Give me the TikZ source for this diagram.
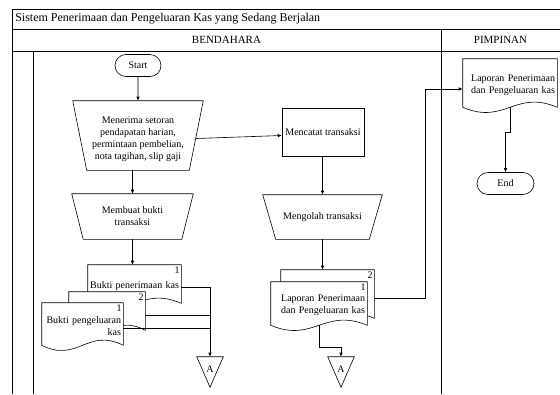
\documentclass[tikz,border=0pt]{standalone}
\usepackage{fontspec}
\setmainfont{Liberation Serif}
\usetikzlibrary{shapes.misc,arrows.meta,calc}

% dokumen: [nomor]{nama}{posisi}{lebar}{tinggi}{teks}
\newcommand{\dokumen}[6][]{%
  \node[dokbox, minimum width=#4, minimum height=#5] (#2) at #3 {};
  \draw[fill=white] (#2.south east) -- (#2.north east) -- (#2.north west) -- (#2.south west)
    .. controls +(0.45*#4,18) and +(-0.45*#4,-18) .. (#2.south east) -- cycle;
  \if\relax\detokenize{#1}\relax\else
    \node[nomor, anchor=north east] at (#2.north east) {#1};
  \fi
  \node[dokteks, text width=#4-4] at ($(#2)+(0,2)$) {#6};
}
% trapesium (operasi manual): {nama}{sisipan bawah}
\newcommand{\trapesium}[2]{%
  \draw (#1.north west) -- (#1.north east) -- ($(#1.south east)+(-#2,0)$) -- ($(#1.south west)+(#2,0)$) -- cycle;
}

\begin{document}
\begin{tikzpicture}[x=1pt, y=-1pt, line width=0.6pt, >={Latex[length=4pt,width=3.5pt]},
    font=\fontsize{10}{12}\selectfont,
    judul/.style = {font=\fontsize{11}{13}\selectfont, inner sep=0pt},
    terminal/.style = {draw, rounded rectangle, minimum height=22, inner sep=2pt},
    manual/.style = {align=center, inner sep=0pt},
    proses/.style = {draw, rectangle, minimum width=81, minimum height=48},
    dokbox/.style = {inner sep=0pt},
    nomor/.style = {inner sep=1.5pt},
    dokteks/.style = {align=right, inner sep=0pt},
    konektor/.style = {minimum width=26, text height=15, text depth=15, inner sep=0pt}]
    \useasboundingbox (0,0) rectangle (560,394);

    % kerangka
    \draw (12,394) |- (560,9);
    \draw (12,29) -- (560,29);
    \draw (12,51) -- (560,51);
    \draw (441,29) -- (441,394);
    \draw (33,51) -- (33,394);
    \node[judul, font=\fontsize{12}{14}\selectfont, anchor=west] (sistem) at (15,19) {Sistem Penerimaan dan Pengeluaran Kas yang Sedang Berjalan};
    \node[judul] (bendahara) at (226.5,40) {BENDAHARA};
    \node[judul] (pimpinan) at (500.5,40) {PIMPINAN};

    % bendahara
    \node[terminal, minimum width=50] (start) at (138,65.5) {Start};
    \node[manual, minimum width=130, minimum height=69] (terima) at (138,135.5)
        {\raisebox{-3.5pt}[\height][\depth]{\begin{tabular}{@{}c@{}}Menerima setoran\\pendapatan harian,\\permintaan pembelian,\\nota tagihan, slip gaji\end{tabular}}};
    \trapesium{terima}{14}
    \node[manual, minimum width=121, minimum height=45] (bukti) at (132.5,216.5)
        {Membuat bukti\\transaksi};
    \trapesium{bukti}{11.5}
    \node[proses] (catat) at (323,132) {Mencatat transaksi};
    \node[manual, minimum width=119, minimum height=44] (olah) at (322.5,217)
        {Mengolah transaksi};
    \trapesium{olah}{13}

    \dokumen[1]{pen}{(134.5,284)}{93}{38}{Bukti penerimaan kas}
    \dokumen[2]{kel2}{(107,311)}{76}{38}{}
    \dokumen[1]{kel1}{(82.5,324)}{81}{42}{Bukti pengeluaran\\kas}
    \dokumen[2]{lap2}{(327.5,294)}{93}{48}{}
    \dokumen[1]{lap1}{(319,303.5)}{96}{43}{Laporan Penerimaan\\dan Pengeluaran kas}

    \node[konektor] (a1) at (210,372) {A};
    \draw (a1.north west) -- (a1.north east) -- (a1.south) -- cycle;
    \node[konektor] (a2) at (341,372) {A};
    \draw (a2.north west) -- (a2.north east) -- (a2.south) -- cycle;

    % pimpinan
    \dokumen{lapp}{(510,83)}{94}{48}{Laporan Penerimaan\\dan Pengeluaran kas}
    \node[terminal, minimum width=61] (end) at (505.5,183.5) {End};

    % alur
    \draw[->] (start) -- (start |- terima.north);
    \draw[->] ($(terima.east)+(-7,3)$) -- (terima.east -| catat.west);
    \draw[->] (terima.south -| bukti.north) -- (bukti.north);
    \draw[->] (bukti.south) -- (bukti.south |- pen.north);
    \draw[->] (catat.south -| olah.north) -- (olah.north);
    \draw[->] (olah.south) -- (olah.south |- lap2.north);
    \draw[->] ($(pen.east)+(0,3)$) -| (a1.north);
    \draw ($(kel2.east)+(0,4)$) coordinate (k2) -- (k2 -| a1.north);
    \draw ($(kel1.east)+(0,4)$) coordinate (k1) -- (k1 -| a1.north);
    \draw[->] (lap1.south) -- ++(0,22) -| (a2.north);
    \draw[->] ($(lap2.east)+(0,4)$) -- ++(51,0) |- ($(lapp.west)+(0,6)$);
    \draw[->] (lapp.south) -- ++(0,25) -| (end.north);
\end{tikzpicture}
\end{document}
